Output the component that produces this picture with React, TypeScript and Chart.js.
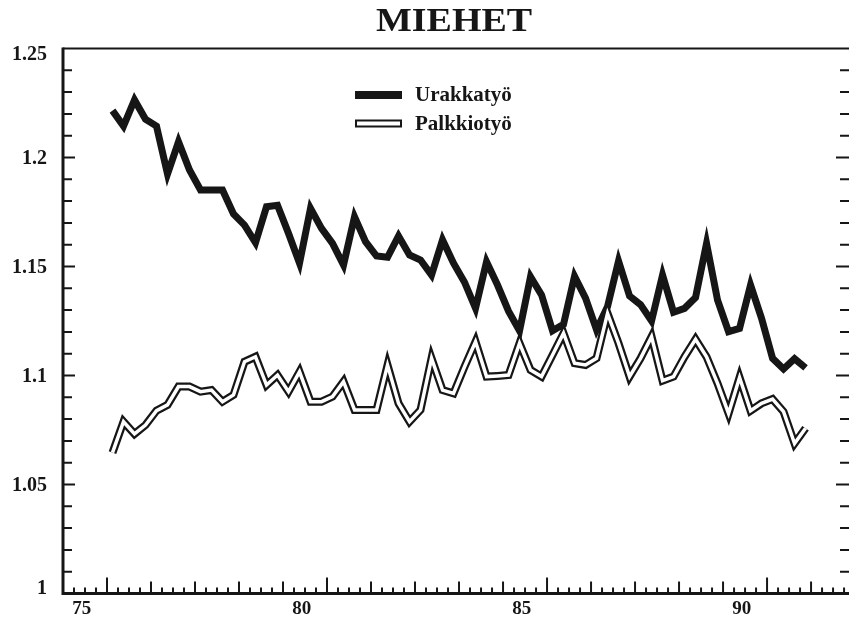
import React, { useEffect, useRef } from 'react';
import { Chart, registerables } from 'chart.js';

Chart.register(...registerables);

const TITLE = 'MIEHET';
const SERIES_NAMES = ['Urakkatyö', 'Palkkiotyö'];
// quarterly observations, first one at year position X_START
const X_START = 75.7;
const X_STEP = 0.25;
const X_MIN = 74.575;
const X_MAX = 92.46;
const X_TICK_LABELS = [75, 80, 85, 90];
const Y_TICKS = [1, 1.05, 1.1, 1.15, 1.2, 1.25];

const URAKKA = [
  1.2215, 1.2144, 1.2264, 1.2175, 1.2144, 1.1924, 1.2072, 1.1943,
  1.1851, 1.1851, 1.1851, 1.1741, 1.169, 1.1609, 1.1774, 1.1781,
  1.1652, 1.1515, 1.1767, 1.1675, 1.1606, 1.1507, 1.1728, 1.1614,
  1.1548, 1.1542, 1.164, 1.1553, 1.153, 1.1461, 1.1622, 1.1515,
  1.1428, 1.1308, 1.1522, 1.1415, 1.1295, 1.1205, 1.1453, 1.137,
  1.1205, 1.1235, 1.1455, 1.1355, 1.121, 1.1316, 1.1525, 1.1365,
  1.1325, 1.125, 1.1461, 1.129, 1.1308, 1.1358, 1.1606, 1.1346,
  1.1201, 1.1216, 1.1415, 1.1262, 1.1079, 1.103, 1.1077, 1.1035,
];

const PALKKIO = [
  1.0646, 1.0788, 1.0732, 1.0773, 1.0839, 1.0865, 1.0949, 1.0949,
  1.0926, 1.0933, 1.088, 1.0911, 1.1063, 1.1086, 1.0956, 1.1002,
  1.0926, 1.1017, 1.088, 1.088, 1.0903, 1.0972, 1.0842, 1.0842,
  1.0842, 1.1048, 1.0872, 1.0788, 1.0842, 1.1079, 1.0933, 1.0918,
  1.104, 1.1155, 1.0995, 1.0998, 1.1002, 1.1148, 1.1025, 1.0995,
  1.1094, 1.1194, 1.1056, 1.1048, 1.1079, 1.1285, 1.1148, 1.0995,
  1.1079, 1.1178, 1.0976, 1.0995, 1.1086, 1.1166, 1.1086, 1.0964,
  1.0826, 1.0991, 1.0838, 1.0872, 1.0892, 1.0834, 1.0688, 1.0758,
];

const FONT = '"Liberation Serif", "Times New Roman", serif';
const INK = '#161616';

const toPoints = (arr: number[]) => arr.map((y, i) => ({ x: X_START + i * X_STEP, y }));
const fmtY = (v: number) => String(Number(v.toFixed(2)));

const framePlugin = {
  id: 'frame',
  afterDraw(chart: any) {
    const { ctx, chartArea: a, scales } = chart;
    const xs = scales.x;
    const ys = scales.y;
    ctx.save();
    ctx.strokeStyle = INK;
    ctx.lineCap = 'butt';
    // frame
    ctx.lineWidth = 2;
    ctx.beginPath();
    ctx.moveTo(a.left, a.top);
    ctx.lineTo(a.right, a.top);
    ctx.lineTo(a.right, a.bottom);
    ctx.stroke();
    ctx.lineWidth = 3;
    ctx.beginPath();
    ctx.moveTo(a.left, a.top - 1);
    ctx.lineTo(a.left, a.bottom);
    ctx.lineTo(a.right, a.bottom);
    ctx.stroke();
    // y ticks (inward) every 0.01
    ctx.lineWidth = 2;
    for (let k = 1; k < 25; k++) {
      const v = 1 + k * 0.01;
      const py = ys.getPixelForValue(v);
      const major = k % 5 === 0;
      ctx.beginPath();
      ctx.moveTo(a.left, py);
      ctx.lineTo(a.left + (major ? 12 : 9), py);
      ctx.moveTo(a.right, py);
      ctx.lineTo(a.right - (major ? 14 : 10), py);
      ctx.stroke();
    }
    // x ticks (inward) every quarter
    for (let k = 1; ; k++) {
      const v = X_MIN + k * 0.25;
      if (v >= X_MAX) break;
      const px = xs.getPixelForValue(v);
      let len = 6;
      if (k % 4 === 0) len = 12;
      if (k % 20 === 4) len = 16;
      ctx.beginPath();
      ctx.moveTo(px, a.bottom);
      ctx.lineTo(px, a.bottom - len);
      ctx.stroke();
    }
    // y labels
    ctx.fillStyle = INK;
    ctx.font = `bold 20px ${FONT}`;
    ctx.textAlign = 'right';
    ctx.textBaseline = 'middle';
    const last = Y_TICKS.length - 1;
    Y_TICKS.forEach((v, i) => {
      let py = ys.getPixelForValue(v);
      if (i === 0) py -= 6;
      if (i === last) py += 5;
      ctx.fillText(fmtY(v), 47, py + 1);
    });
    // title
    ctx.save();
    ctx.font = `bold 33px ${FONT}`;
    ctx.textAlign = 'center';
    ctx.textBaseline = 'middle';
    ctx.translate(454, 22);
    ctx.scale(1.15, 1);
    ctx.fillText(TITLE, 0, 0);
    ctx.restore();
    // legend
    const lx0 = 355;
    const lx1 = 402;
    ctx.font = `bold 21px ${FONT}`;
    ctx.textAlign = 'left';
    ctx.textBaseline = 'middle';
    SERIES_NAMES.forEach((name, i) => {
      const ly = 95 + i * 28.5;
      ctx.strokeStyle = INK;
      ctx.lineWidth = 8;
      ctx.beginPath();
      ctx.moveTo(lx0, ly);
      ctx.lineTo(lx1, ly);
      ctx.stroke();
      if (i === 1) {
        ctx.strokeStyle = '#ffffff';
        ctx.lineWidth = 4;
        ctx.beginPath();
        ctx.moveTo(lx0 + 2, ly);
        ctx.lineTo(lx1 - 2, ly);
        ctx.stroke();
      }
      ctx.fillStyle = INK;
      ctx.fillText(name, 415, ly + 1);
    });
    ctx.restore();
  },
};

export default function App() {
  const ref = useRef<HTMLCanvasElement | null>(null);
  useEffect(() => {
    if (!ref.current) return;
    const chart = new Chart(ref.current, {
      type: 'line',
      data: {
        datasets: [
          {
            label: SERIES_NAMES[0],
            data: toPoints(URAKKA),
            borderColor: INK,
            borderWidth: 7,
            borderJoinStyle: 'miter',
            pointRadius: 0,
            order: 3,
          },
          {
            label: SERIES_NAMES[1],
            data: toPoints(PALKKIO),
            borderColor: INK,
            borderWidth: 8,
            borderJoinStyle: 'miter',
            pointRadius: 0,
            order: 2,
          },
          {
            label: SERIES_NAMES[1] + ' (inner)',
            data: toPoints(PALKKIO),
            borderColor: '#ffffff',
            borderWidth: 3.5,
            borderJoinStyle: 'miter',
            pointRadius: 0,
            order: 1,
          },
        ],
      },
      options: {
        animation: false,
        responsive: false,
        maintainAspectRatio: false,
        layout: { padding: { top: 48.5, right: 2, left: 0, bottom: 0 } },
        plugins: {
          legend: { display: false },
          title: { display: false },
          tooltip: { enabled: false },
        },
        elements: { line: { tension: 0 }, point: { radius: 0 } },
        scales: {
          x: {
            type: 'linear',
            min: X_MIN,
            max: X_MAX,
            afterBuildTicks: (ax: any) => {
              ax.ticks = X_TICK_LABELS.map((v) => ({ value: v }));
            },
            afterFit: (s: any) => {
              s.height = 30.5;
            },
            grid: { display: false, drawTicks: false },
            border: { display: false },
            ticks: {
              color: INK,
              font: { family: FONT, size: 19, weight: 'bold' },
              padding: 4,
              maxRotation: 0,
              autoSkip: false,
              callback: (v: any) => String(v),
            },
          },
          y: {
            type: 'linear',
            min: 1,
            max: 1.25,
            afterBuildTicks: (ax: any) => {
              ax.ticks = Y_TICKS.map((v) => ({ value: v }));
            },
            afterFit: (s: any) => {
              s.width = 63;
            },
            grid: { display: false, drawTicks: false },
            border: { display: false },
            ticks: { display: false },
          },
        },
      },
      plugins: [framePlugin],
    } as any);
    return () => chart.destroy();
  }, []);
  return (
    <div
      style={{
        position: 'absolute',
        left: 0,
        top: 0,
        width: 849,
        height: 624,
        overflow: 'hidden',
        background: '#ffffff',
      }}
    >
      <canvas ref={ref} width={852} height={624} style={{ display: 'block' }} />
    </div>
  );
}
